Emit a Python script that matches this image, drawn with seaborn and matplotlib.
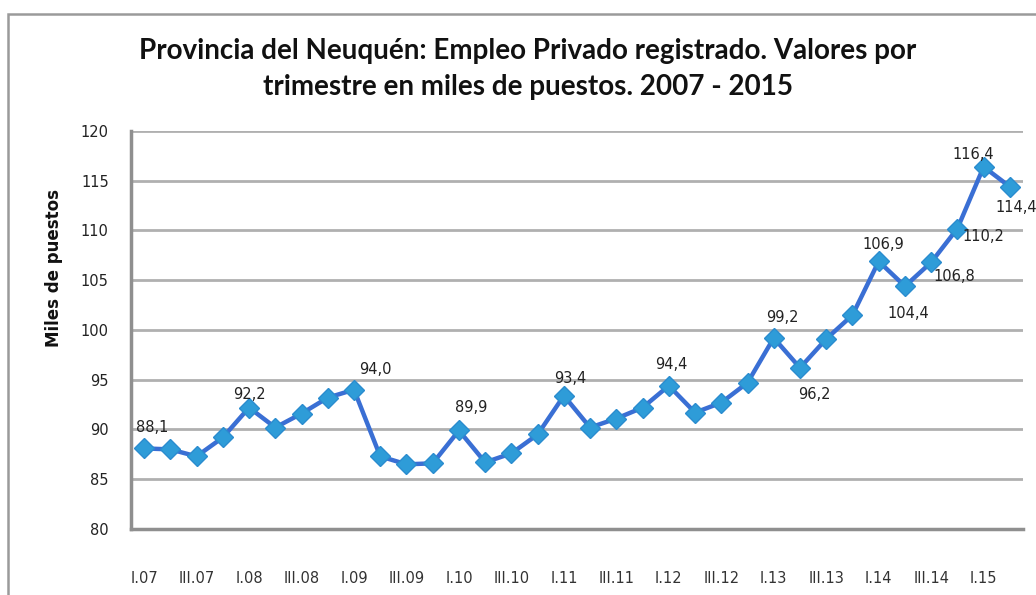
import numpy as np
import pandas as pd
import matplotlib
matplotlib.use("Agg")
import matplotlib.pyplot as plt
import seaborn as sns
from matplotlib.patches import Rectangle

# ---------------- data ----------------
quarters = [f"{q}.{y:02d}" for y in range(7, 16) for q in ["I", "II", "III", "IV"]][:34]
values = [88.1, 88.0, 87.3, 89.2, 92.2, 90.2, 91.6, 93.2, 94.0,
          87.3, 86.5, 86.6, 89.9, 86.7, 87.6, 89.5, 93.4, 90.2,
          91.1, 92.2, 94.4, 91.7, 92.7, 94.7, 99.2, 96.2, 99.1,
          101.5, 106.9, 104.4, 106.8, 110.2, 116.4, 114.4]
labeled_idx = [0, 4, 8, 12, 16, 20, 24, 25, 28, 29, 30, 31, 32, 33]
title_text = ("Provincia del Neuquén: Empleo Privado registrado. Valores por\n"
              "trimestre en miles de puestos. 2007 - 2015")
ylabel_text = "Miles de puestos"
y_ticks = [80, 85, 90, 95, 100, 105, 110, 115, 120]

df = pd.DataFrame({"trimestre": quarters, "miles": values})

# label offsets in pixels (style only)
label_offsets = {0: (8, 21), 4: (0, 13), 8: (21, 20), 12: (12, 23), 16: (6, 17),
                 20: (2, 21), 24: (9, 20), 25: (14, -27), 28: (5, 17), 29: (3, -27),
                 30: (23, -14), 31: (26, -8), 32: (-10, 12), 33: (6, -21)}

# ---------------- style ----------------
sns.set_style("white")
plt.rcParams["font.family"] = ["DejaVu Sans"]

W, H = 1036, 595
fig = plt.figure(figsize=(W / 100, H / 100), dpi=100)
fig.patch.set_facecolor("white")
ax = fig.add_axes([131 / W, 1 - 529 / H, (1023 - 131) / W, (529 - 131) / H])

sns.lineplot(data=df, x="trimestre", y="miles", ax=ax, sort=False,
             color="#3a6fd4", linewidth=3.2, marker="D", markersize=10,
             markerfacecolor="#2e9cd8", markeredgecolor="#2a8ccf",
             markeredgewidth=1.0, zorder=5)

n = len(quarters)
ax.set_xlim(-0.5, n - 0.5)
ax.set_ylim(80, 120)
ax.set_yticks(y_ticks)
ax.set_yticklabels([str(t) for t in y_ticks])

# x ticks: labels every other quarter, tick marks at boundaries
ax.set_xticks(range(0, n, 2))
ax.set_xticklabels([quarters[i] for i in range(0, n, 2)])
ax.set_xticks(np.arange(-0.5, n, 1.0), minor=True)
ax.tick_params(axis="x", which="major", length=0, pad=30, labelsize=10.5,
               labelcolor="#333333")
ax.tick_params(axis="x", which="minor", length=5, width=1.5, color="#9a9a9a",
               direction="out")
ax.tick_params(axis="y", which="major", length=7, width=1.5, color="#9a9a9a",
               direction="out", labelsize=10.5, labelcolor="#222222", pad=9)

ax.set_xlabel("")
ax.set_ylabel("")
ax.grid(axis="y", color="#b0b0b0", linewidth=2.0)
ax.grid(axis="x", visible=False)
ax.set_axisbelow(True)
for s in ["top", "right"]:
    ax.spines[s].set_visible(False)
for s in ["left", "bottom"]:
    ax.spines[s].set_color("#8f8f8f")
    ax.spines[s].set_linewidth(2.5)

# data labels
for i in labeled_idx:
    dx, dy = label_offsets[i]
    ax.annotate(f"{values[i]:.1f}".replace(".", ","), (i, values[i]),
                xytext=(dx, dy), textcoords="offset pixels",
                ha="center", va="center", fontsize=10.5, color="#222222",
                zorder=6, annotation_clip=False)

# title
fig.text(528 / W, 1 - 69 / H, title_text, ha="center", va="center",
         fontsize=20, fontweight="bold", family=["Lato", "DejaVu Sans"],
         color="#111111", linespacing=1.45)

# y label
fig.text(54 / W, 1 - 347 / H, ylabel_text, rotation=90, ha="center",
         va="bottom", fontsize=12, fontweight="bold", color="#111111")

# outer chart frame
fig.add_artist(Rectangle((8 / W, -0.2), 1.5, 1 - 14 / H + 0.2,
                         transform=fig.transFigure, fill=False,
                         edgecolor="#9a9a9a", linewidth=1.8))

fig.savefig("out.png", dpi=100)
